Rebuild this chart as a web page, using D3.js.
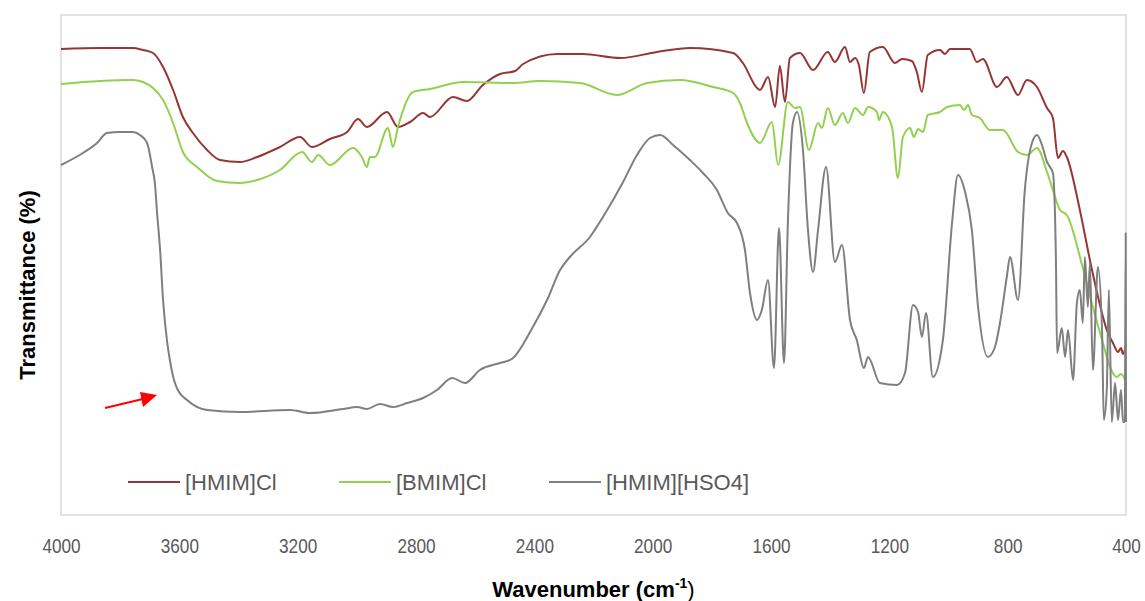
<!DOCTYPE html>
<html>
<head>
<meta charset="utf-8">
<script src="https://cdn.jsdelivr.net/npm/d3@7/dist/d3.min.js"></script>
<style>
  body { margin: 0; background: #fff; }
  svg { display: block; }
</style>
</head>
<body>
<svg id="chart"></svg>
<script>
// FTIR spectra, [wavenumber cm-1, transmittance (arbitrary %)]
const hmimCl = [
  [4000,93.2],[3868,93.4],[3757,93.4],[3723,93.0],[3689,92.4],[3655,89.6],[3621,85.0],[3588,79.6],
  [3554,76.4],[3506,73.0],[3463,71.0],[3395,70.6],[3337,71.6],[3260,73.6],[3192,75.6],[3152,73.6],
  [3091,75.2],[3033,76.6],[2996,79.2],[2966,77.6],[2898,80.6],[2861,77.6],[2820,78.6],[2776,80.4],
  [2753,79.6],[2675,83.6],[2628,82.8],[2574,86.0],[2516,88.2],[2465,88.8],[2438,90.2],[2323,92.2],
  [2236,92.2],[2110,91.4],[1985,92.6],[1874,93.4],[1728,92.4],[1695,90.4],[1647,85.4],[1637,85.0],
  [1610,87.6],[1586,81.6],[1570,89.8],[1553,82.6],[1536,91.4],[1502,92.4],[1458,89.0],[1408,92.6],
  [1384,90.6],[1350,93.6],[1333,90.6],[1316,91.4],[1303,90.0],[1286,84.4],[1266,92.6],[1222,93.6],
  [1181,90.4],[1157,91.2],[1124,90.8],[1107,88.6],[1090,84.6],[1070,92.0],[1029,93.0],[1012,92.2],
  [995,93.2],[928,93.2],[904,90.6],[884,91.2],[836,85.6],[803,87.6],[765,84.0],[735,87.0],
  [701,85.6],[667,81.4],[647,79.4],[630,71.4],[613,72.8],[600,71.6],[556,61.0],[522,51.0],
  [488,42.0],[465,37.0],[444,34.4],[427,32.6],[417,33.4],[410,32.2],[400,34.0]
];

const bmimCl = [
  [4000,86.2],[3868,86.8],[3757,87.0],[3723,86.6],[3689,85.4],[3655,83.0],[3621,78.4],[3588,72.6],
  [3540,69.6],[3473,66.8],[3395,66.4],[3337,67.0],[3260,69.0],[3185,72.6],[3152,70.6],[3131,72.0],
  [3091,70.0],[3013,73.4],[2983,71.6],[2966,69.6],[2956,71.6],[2939,71.6],[2895,77.4],[2878,73.6],
  [2861,77.6],[2810,84.6],[2753,85.2],[2641,86.6],[2472,86.4],[2381,86.8],[2246,86.4],[2121,84.0],
  [2019,86.4],[1908,87.0],[1796,85.6],[1728,84.4],[1705,82.4],[1681,78.4],[1637,74.4],[1597,78.6],
  [1576,70.0],[1543,82.6],[1519,81.4],[1502,81.6],[1472,73.0],[1441,78.4],[1428,77.4],[1408,81.4],
  [1384,78.0],[1357,80.4],[1340,78.4],[1316,81.4],[1289,80.0],[1272,81.6],[1242,80.6],[1235,79.0],
  [1222,80.6],[1191,77.6],[1171,67.4],[1154,75.6],[1130,77.4],[1117,75.6],[1103,77.2],[1086,76.6],
  [1070,80.0],[1029,80.6],[1005,81.6],[961,82.0],[948,81.0],[934,82.0],[921,80.0],[894,79.4],
  [860,77.0],[816,77.0],[765,72.6],[735,72.0],[701,73.4],[667,68.6],[647,65.0],[623,61.0],
  [600,60.0],[546,49.4],[512,41.6],[478,34.4],[454,29.6],[431,27.6],[417,28.2],[400,26.6]
];

const hmimHso4 = [
  [4000,70.0],[3926,72.4],[3878,74.4],[3845,76.4],[3801,76.6],[3757,76.6],[3733,76.0],[3709,74.4],
  [3692,69.6],[3682,66.0],[3676,61.0],[3665,53.0],[3655,43.0],[3642,35.0],[3632,31.0],[3618,27.0],
  [3605,25.0],[3574,23.0],[3506,21.0],[3395,20.6],[3226,21.0],[3158,20.4],[3047,21.2],[2999,21.6],
  [2966,21.2],[2922,22.2],[2878,21.6],[2830,22.4],[2776,23.4],[2729,25.0],[2678,27.4],[2634,26.4],
  [2584,29.0],[2516,30.4],[2476,31.2],[2405,37.6],[2357,43.0],[2313,49.0],[2280,51.6],[2212,55.6],
  [2168,59.6],[2100,66.6],[2053,72.0],[2009,75.4],[1975,76.0],[1931,74.0],[1874,71.0],[1830,68.4],
  [1783,65.0],[1746,60.4],[1715,58.4],[1688,53.0],[1671,44.4],[1647,39.0],[1631,41.0],[1610,47.0],
  [1590,29.4],[1573,57.4],[1556,30.4],[1543,58.4],[1526,78.4],[1512,80.6],[1492,73.0],[1475,57.0],
  [1458,48.6],[1441,57.0],[1414,69.6],[1384,50.6],[1360,54.0],[1333,39.0],[1310,35.0],[1286,29.4],
  [1272,31.6],[1232,26.4],[1174,26.0],[1147,28.4],[1120,42.0],[1103,40.6],[1090,35.6],[1076,40.4],
  [1053,27.6],[1019,35.0],[988,58.4],[968,68.0],[944,64.6],[921,57.0],[900,41.6],[867,31.6],
  [843,33.6],[826,38.4],[803,47.6],[792,51.6],[765,43.0],[742,65.0],[718,74.4],[701,76.0],
  [684,74.0],[667,70.6],[657,69.6],[647,68.4],[637,51.6],[633,32.4],[617,37.4],[606,31.6],
  [596,37.0],[579,27.0],[566,42.4],[556,45.0],[546,38.4],[539,51.6],[529,41.6],[522,50.4],
  [512,29.0],[495,49.6],[481,37.0],[475,19.0],[465,25.0],[458,45.0],[448,18.6],[437,26.4],
  [427,19.0],[417,25.0],[410,18.6],[404,18.6],[401,56.4],[400,18.6]
];

const seriesNames = ['[HMIM]Cl', '[BMIM]Cl', '[HMIM][HSO4]'];
const seriesColors = ['#963634', '#92d050', '#7f7f7f'];
const xTicks = [4000, 3600, 3200, 2800, 2400, 2000, 1600, 1200, 800, 400];

const width = 1145, height = 601;
const margin = {left: 61, right: 19, top: 15, bottom: 86};
const labelFont = '"Liberation Sans", Arial, sans-serif';

const svg = d3.select('#chart')
  .attr('width', width)
  .attr('height', height);

const x = d3.scaleLinear()
  .domain([4000, 400])
  .range([margin.left, width - margin.right]);

const y = d3.scaleLinear()
  .domain([0, 100])
  .range([height - margin.bottom, margin.top]);

// plot frame
svg.append('rect')
  .attr('x', margin.left)
  .attr('y', margin.top)
  .attr('width', width - margin.left - margin.right)
  .attr('height', height - margin.top - margin.bottom)
  .attr('fill', 'none')
  .attr('stroke', '#d9d9d9')
  .attr('stroke-width', 1.5);

// x axis, labels only (narrowed to look like Calibri)
let xAxis = svg.append('g')
  .attr('transform', `translate(0,${height - margin.bottom})`)
  .call(d3.axisBottom(x).tickValues(xTicks).tickSize(0).tickPadding(24).tickFormat(d3.format('d')));
xAxis.select('.domain').remove();
xAxis.selectAll('text')
  .attr('font-family', labelFont)
  .attr('font-size', 20)
  .attr('transform', 'scale(0.86,1)')
  .attr('fill', '#595959');

// series
let line = d3.line()
  .x(d => x(d[0]))
  .y(d => y(d[1]))
  .curve(d3.curveMonotoneX);

let data = [hmimCl, bmimCl, hmimHso4];
svg.append('g')
  .selectAll('path')
  .data(data)
  .enter()
  .append('path')
  .attr('d', line)
  .attr('fill', 'none')
  .attr('stroke', (d, i) => seriesColors[i])
  .attr('stroke-width', 2)
  .attr('stroke-linejoin', 'round');

// legend
let legendX = [128, 339, 549];
let legend = svg.append('g')
  .selectAll('g')
  .data(seriesNames)
  .enter()
  .append('g')
  .attr('transform', (d, i) => `translate(${legendX[i]},482)`);

legend.append('line')
  .attr('x1', 0).attr('x2', 52)
  .attr('stroke', (d, i) => seriesColors[i])
  .attr('stroke-width', 2);

legend.append('text')
  .attr('x', 57)
  .attr('dy', '0.36em')
  .attr('font-family', labelFont)
  .attr('font-size', 22)
  .attr('transform', 'translate(0,0)')
  .attr('fill', '#595959')
  .text(d => d);

// red arrow pointing at the broad O-H band
svg.append('line')
  .attr('x1', 105).attr('y1', 408)
  .attr('x2', 147).attr('y2', 398)
  .attr('stroke', '#ff0000')
  .attr('stroke-width', 2);
svg.append('path')
  .attr('d', 'M157,395L140,392L143,407Z')
  .attr('fill', '#ff0000');

// axis titles
let xTitle = svg.append('text')
  .attr('x', (margin.left + width - margin.right) / 2)
  .attr('y', 597)
  .attr('text-anchor', 'middle')
  .attr('font-family', labelFont)
  .attr('font-size', 22)
  .attr('fill', '#000');
xTitle.append('tspan').attr('font-weight', 'bold').text('Wavenumber (cm');
xTitle.append('tspan').attr('font-weight', 'bold').attr('font-size', 14).attr('dy', -9).text('-1');
xTitle.append('tspan').attr('dy', 9).text(')');

svg.append('text')
  .attr('transform', 'translate(35,285) rotate(-90)')
  .attr('text-anchor', 'middle')
  .attr('font-family', labelFont)
  .attr('font-size', 22)
  .attr('font-weight', 'bold')
  .attr('fill', '#000')
  .text('Transmittance (%)');
</script>
</body>
</html>
